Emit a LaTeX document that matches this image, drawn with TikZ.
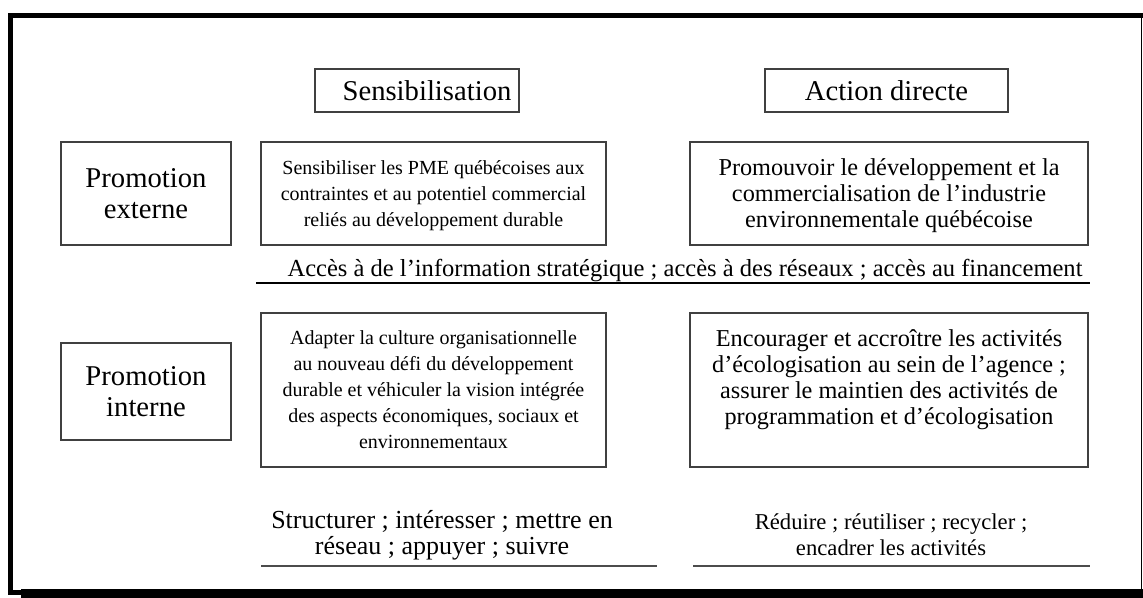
\documentclass[tikz,border=0pt]{standalone}
\usepackage{fontspec}
\setmainfont{Liberation Serif}
\usepackage{tikz}

\begin{document}
\begin{tikzpicture}[x=0.75pt,y=-0.75pt,
    box/.style={draw=black!75, line width=0.9pt, align=center, inner sep=0pt,
        text depth=-5pt},
    body/.style={font=\fontsize{#1}{19.5}\selectfont},
    head/.style={box, font=\fontsize{21.5}{23.25}\selectfont},
    note/.style={align=center, inner sep=0pt},
    rule/.style={black!70, line width=1pt}]
    \useasboundingbox (0,0) rectangle (1143,598);

    % frame with its shadow at the bottom
    \draw[line width=3.75pt] (10.5,592) -- (10.5,15.5) -- (1143,15.5);
    \draw[line width=3.75pt] (8,592) -- (21,592);
    \draw[line width=0.9pt] (1141.5,15.5) -- (1141.5,590);
    \fill (21,589) rectangle (1143,598);

    % column heads
    \node[head, text depth=0pt, minimum width=153pt, minimum height=32.25pt] (sens) at (417,90.5) {\hspace*{15pt}Sensibilisation};
    \node[head, text depth=0pt, minimum width=182.25pt, minimum height=32.25pt] (action) at (886.5,90.5) {Action directe};

    % row heads
    \node[head, minimum width=127.5pt, minimum height=77.25pt] (ext) at (146,193.5) {Promotion\\ externe};
    \node[head, minimum width=127.5pt, minimum height=72.75pt] (int) at (146,391.5) {Promotion\\ interne};

    % external promotion
    \node[box, body=15, minimum width=258.75pt, minimum height=77.25pt] (sensib) at (433.5,193.5)
        {Sensibiliser les PME québécoises aux\\ contraintes et au potentiel commercial\\ reliés au développement durable};
    \node[box, body=18.2, minimum width=298.5pt, minimum height=77.25pt] (promo) at (889,193.5)
        {Promouvoir le développement et la\\ commercialisation de l’industrie\\ environnementale québécoise};

    \node[note, body=18.4] (acces) at (685,271) {Accès à de l’information stratégique ; accès à des réseaux ; accès au financement};
    \draw[black, line width=1.2pt] (256,283) -- (1090,283);

    % internal promotion
    \node[box, body=15, minimum width=258.75pt, minimum height=115.5pt] (adapt) at (433.5,390)
        {Adapter la culture organisationnelle\\ au nouveau défi du développement\\ durable et véhiculer la vision intégrée\\ des aspects économiques, sociaux et\\ environnementaux};
    \node[box, body=18.2, minimum width=298.5pt, minimum height=115.5pt] (encour) at (889,390)
        {Encourager et accroître les activités\\ d’écologisation au sein de l’agence ;\\ assurer le maintien des activités de\\ programmation et d’écologisation\\ ~};

    \node[note, body=19.5] (struct) at (442,535) {Structurer ; intéresser ; mettre en\\ réseau ; appuyer ; suivre};
    \draw[rule] (261,566) -- (657,566);
    \node[note, body=17] (reduire) at (891,535) {Réduire ; réutiliser ; recycler ;\\ encadrer les activités};
    \draw[rule] (693,566) -- (1090,566);

\end{tikzpicture}
\end{document}
